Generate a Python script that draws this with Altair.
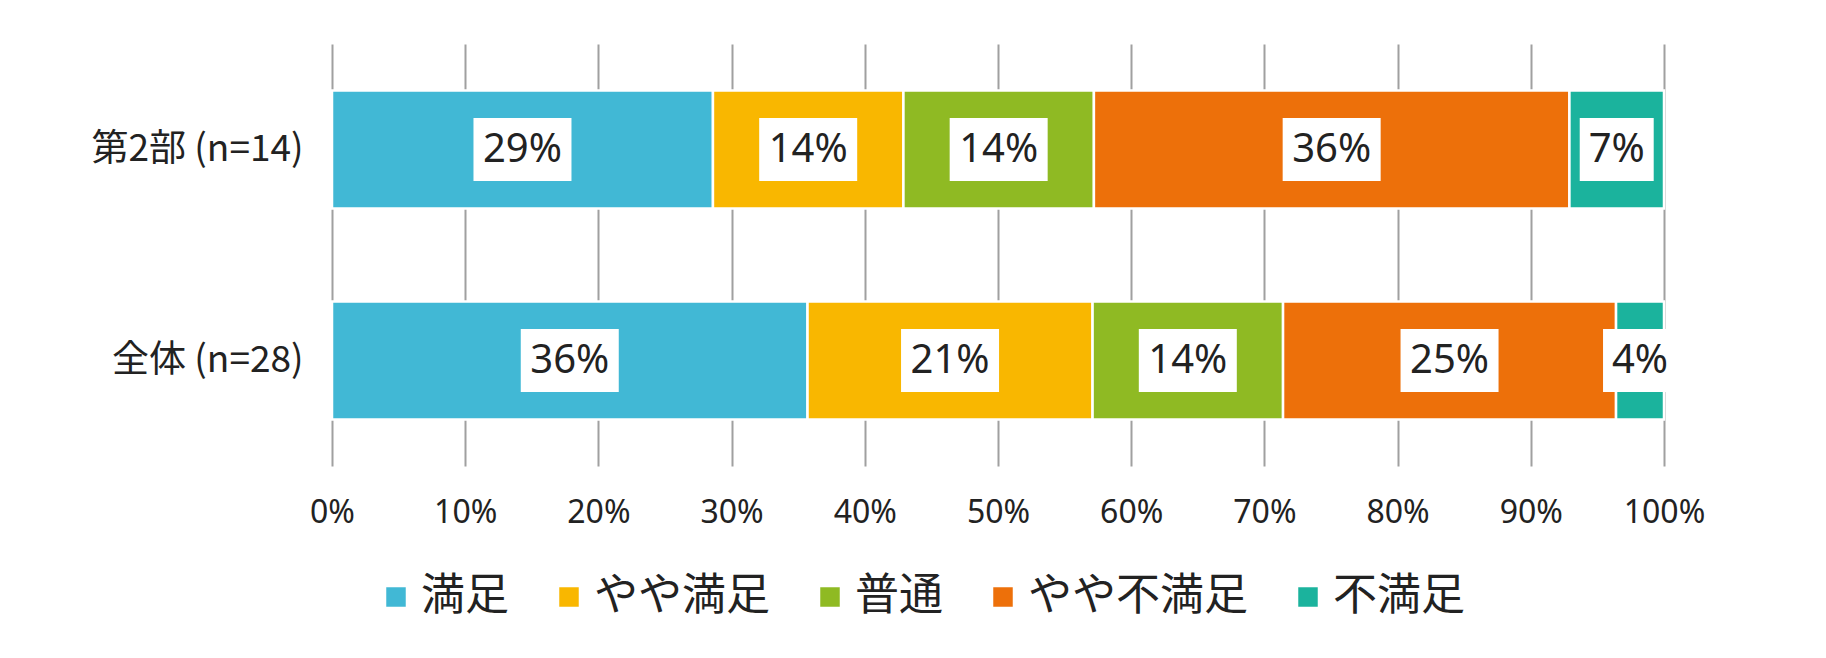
import altair as alt
import pandas as pd

categories = ["第2部 (n=14)", "全体 (n=28)"]
levels = ["満足", "やや満足", "普通", "やや不満足", "不満足"]
part2_values = [28.6, 14.3, 14.3, 35.7, 7.1]
total_values = [35.7, 21.4, 14.3, 25.0, 3.6]
colors = ["#41B8D5", "#F9B700", "#8FBA23", "#ED700A", "#1BB39D"]
x_ticks = [0, 10, 20, 30, 40, 50, 60, 70, 80, 90, 100]

rows = []
for cat, vals in zip(categories, [part2_values, total_values]):
    for i, (lev, v) in enumerate(zip(levels, vals)):
        rows.append({"cat": cat, "level": lev, "order": i, "value": v})
df = pd.DataFrame(rows)

box3 = "M-1,-0.643H1V0.643H-1Z"
box2 = "M-0.755,-0.643H0.755V0.643H-0.755Z"

base = alt.Chart(df).transform_stack(
    stack="value", groupby=["cat"], as_=["v0", "v1"],
    sort=[alt.SortField("order", order="ascending")]
).transform_calculate(
    mid="(datum.v0 + datum.v1) / 2",
    label="round(datum.value) + '%'",
    len="length(round(datum.value) + '%')"
)

y_enc = alt.Y("cat:N", sort=categories, title=None,
              scale=alt.Scale(paddingInner=0, paddingOuter=0),
              axis=alt.Axis(domain=False, ticks=False, grid=False,
                            labelFont="Noto Sans CJK JP", labelFontSize=37,
                            labelColor="#222222", labelPadding=29, labelLimit=400))

bars = base.mark_bar(size=118, stroke="white", strokeWidth=2.5).encode(
    x=alt.X("v0:Q", title=None,
            scale=alt.Scale(domain=[0, 100], nice=False),
            axis=alt.Axis(values=x_ticks, labelExpr="datum.value + '%'",
                          domain=False, ticks=False, grid=True,
                          gridColor="#a0a0a0", gridWidth=2, labelFlush=False,
                          labelFont="Noto Sans", labelFontSize=32,
                          labelColor="#222222", labelPadding=31)),
    x2="v1:Q",
    y=y_enc,
    color=alt.Color("level:N", sort=levels,
                    scale=alt.Scale(domain=levels, range=colors),
                    legend=alt.Legend(title=None, orient="none", direction="horizontal",
                                      columns=5, legendX=42, legendY=531, padding=0,
                                      symbolType="square", symbolSize=380,
                                      symbolStrokeWidth=0, symbolOpacity=1,
                                      labelFont="Noto Sans CJK JP", labelFontSize=44,
                                      labelColor="#222222", labelOffset=3,
                                      labelLimit=400, columnPadding=38)),
)

boxes3 = base.transform_filter("datum.len >= 3").mark_point(
    filled=True, color="white", opacity=1, size=9604, strokeWidth=0, shape=box3
).encode(x="mid:Q", y=alt.Y("cat:N", sort=categories))

boxes2 = base.transform_filter("datum.len < 3").mark_point(
    filled=True, color="white", opacity=1, size=9604, strokeWidth=0, shape=box2
).encode(x="mid:Q", y=alt.Y("cat:N", sort=categories))

texts = base.mark_text(font="Noto Sans", fontSize=40, color="#222222",
                       baseline="middle", align="center").encode(
    x="mid:Q",
    y=alt.Y("cat:N", sort=categories),
    text="label:N",
)

chart = alt.layer(bars, boxes3, boxes2, texts).properties(
    width=1332, height=422, background="white",
    padding={"left": 332, "top": 44, "right": 162, "bottom": 192},
    autosize=alt.AutoSizeParams(type="none"),
).configure_view(stroke=None)

chart.save("out.html", embed_options={"renderer": "svg", "actions": False})
